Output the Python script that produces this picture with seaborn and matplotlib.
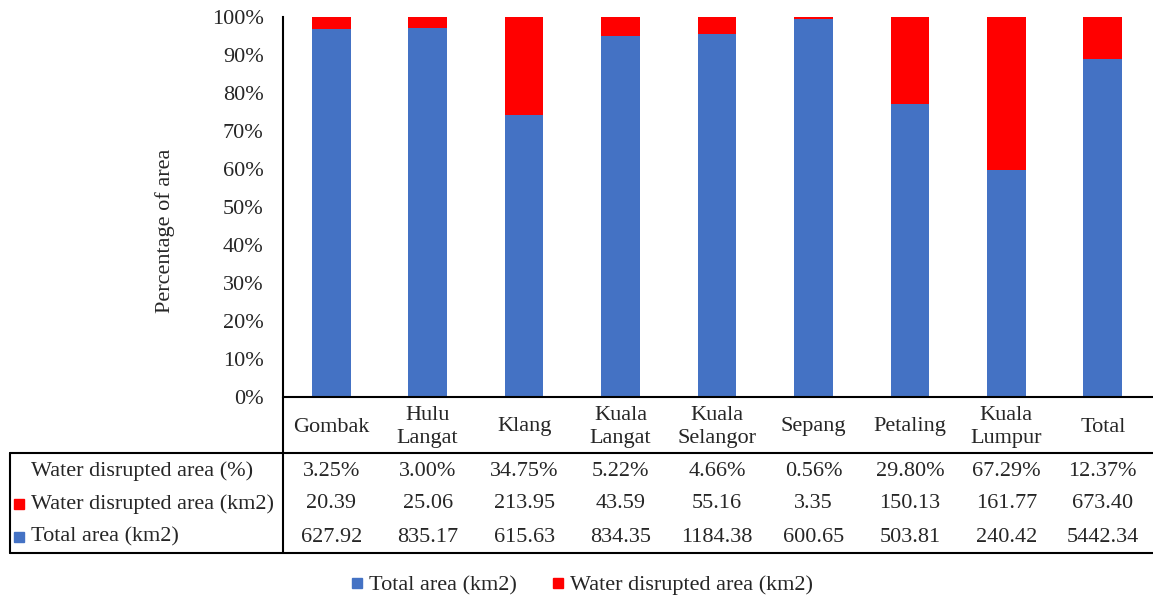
import numpy as np
import pandas as pd
import seaborn as sns
import matplotlib.pyplot as plt
from matplotlib import transforms
from matplotlib.lines import Line2D

districts = ['Gombak', 'Hulu\nLangat', 'Klang', 'Kuala\nLangat', 'Kuala\nSelangor',
             'Sepang', 'Petaling', 'Kuala\nLumpur', 'Total']
total_area = [627.92, 835.17, 615.63, 834.35, 1184.38, 600.65, 503.81, 240.42, 5442.34]
water_area = [20.39, 25.06, 213.95, 43.59, 55.16, 3.35, 150.13, 161.77, 673.40]
water_pct = ['3.25%', '3.00%', '34.75%', '5.22%', '4.66%', '0.56%', '29.80%', '67.29%', '12.37%']

BLUE = '#4472C4'
RED = '#FF0000'
FS = 16

df = pd.DataFrame({'district': districts, 'total': total_area, 'water': water_area})
df['total_share'] = df['total'] / (df['total'] + df['water']) * 100
df['full'] = 100.0

sns.set_theme(style='white')
plt.rcParams['font.family'] = ['Liberation Serif', 'DejaVu Serif']
plt.rcParams['font.size'] = FS

W, H = 1153, 601
fig = plt.figure(figsize=(W / 100, H / 100), dpi=100)
ax = fig.add_axes([283 / W, 1 - 397 / H, (1151 - 283) / W, (397 - 17) / H])

# stacked to 100%: red drawn full height, blue share on top of it
sns.barplot(data=df, x='district', y='full', color=RED, width=0.4, ax=ax,
            saturation=1, linewidth=0)
sns.barplot(data=df, x='district', y='total_share', color=BLUE, width=0.4, ax=ax,
            saturation=1, linewidth=0)

ax.set_ylim(0, 100)
ax.set_xlim(-0.5, len(districts) - 0.5)
ax.set_yticks(np.arange(0, 101, 10))
ax.set_yticklabels([f'{v}%' for v in range(0, 101, 10)], fontsize=FS)
ax.tick_params(axis='y', length=0, pad=14)
ax.set_xticks([])
ax.set_xlabel('')
ax.set_ylabel('')
for s in ['top', 'right', 'bottom']:
    ax.spines[s].set_visible(False)
ax.spines['left'].set_color('black')
ax.spines['left'].set_linewidth(1.5)

fig.text(165 / W, 1 - 231 / H, 'Percentage of area', rotation=90,
         ha='center', va='center', fontsize=FS)


def fy(py):
    return 1 - py / H


# data table below the chart
lw = 1.5
fig.add_artist(Line2D([283 / W, 1], [fy(397), fy(397)], color='black', lw=lw))
fig.add_artist(Line2D([10 / W, 1], [fy(453), fy(453)], color='black', lw=lw))
fig.add_artist(Line2D([10 / W, 1], [fy(553), fy(553)], color='black', lw=lw))
fig.add_artist(Line2D([10 / W, 10 / W], [fy(453), fy(553)], color='black', lw=lw))
fig.add_artist(Line2D([283 / W, 283 / W], [fy(397), fy(553)], color='black', lw=lw))

trans = transforms.blended_transform_factory(ax.transData, fig.transFigure)
rows = [
    ('Water disrupted area (%)', None, water_pct, 471),
    ('Water disrupted area (km2)', RED, [f'{v:.2f}' for v in water_area], 504),
    ('Total area (km2)', BLUE, [f'{v:.2f}' for v in total_area], 537),
]
for i, name in enumerate(districts):
    ax.text(i, fy(427), name, transform=trans, ha='center', va='center',
            fontsize=FS, linespacing=1.35)
for label, col, vals, py in rows:
    if col is not None:
        fig.add_artist(Line2D([19 / W], [fy(py)], marker='s', color=col,
                              markersize=6.5, linestyle='none'))
    fig.text(31 / W, fy(py), label, ha='left', va='center', fontsize=FS)
    for i, v in enumerate(vals):
        ax.text(i, fy(py), v, transform=trans, ha='center', va='center', fontsize=FS)

handles = [Line2D([], [], marker='s', color=BLUE, linestyle='none', markersize=7),
           Line2D([], [], marker='s', color=RED, linestyle='none', markersize=7)]
fig.legend(handles, ['Total area (km2)', 'Water disrupted area (km2)'],
           loc='center', bbox_to_anchor=(582 / W, fy(585)), ncol=2, frameon=False,
           fontsize=FS, handlelength=0.5, handletextpad=0.3, columnspacing=1.6)

fig.savefig('out.png', dpi=100)
